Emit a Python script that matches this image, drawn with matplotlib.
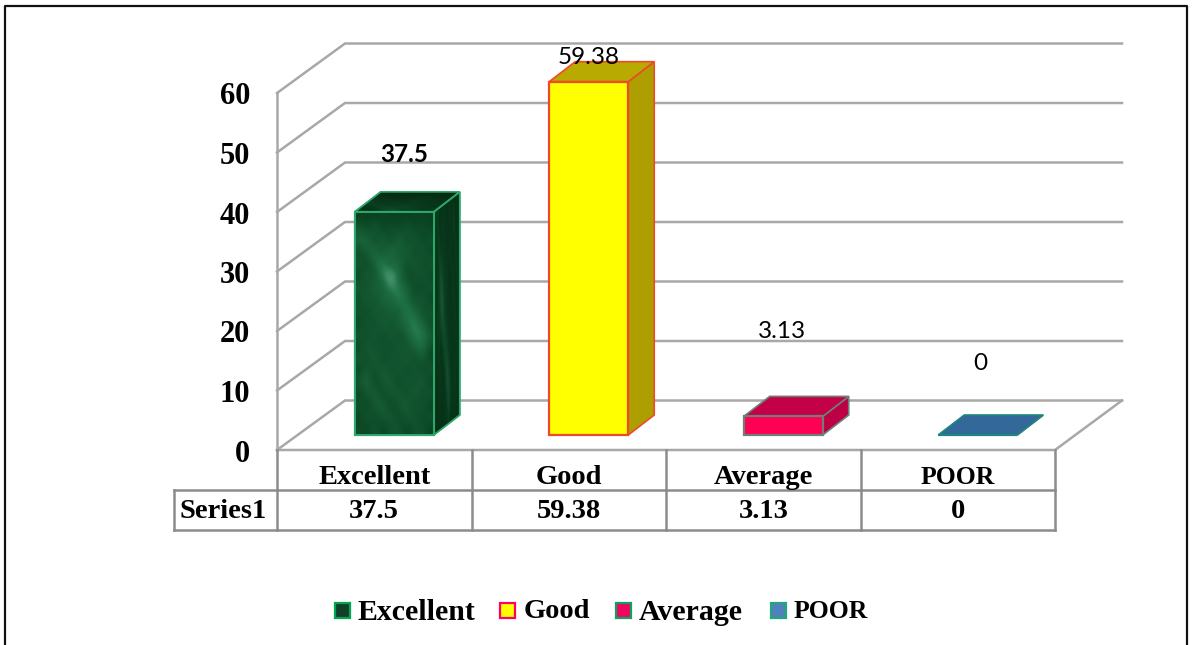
import numpy as np
import matplotlib
matplotlib.use("Agg")
import matplotlib.pyplot as plt
from matplotlib.patches import Polygon, Rectangle
from matplotlib.colors import LinearSegmentedColormap
from matplotlib.transforms import Affine2D

categories = ["Excellent", "Good", "Average", "POOR"]
values = [37.5, 59.38, 3.13, 0]
value_labels = ["37.5", "59.38", "3.13", "0"]
y_ticks = [0, 10, 20, 30, 40, 50, 60]
series_name = "Series1"

face_colors = ["#1c5a38", "#ffff00", "#ff0055", "#33689a"]
top_colors = ["#0c3f23", "#b8aa00", "#c40049", "#33689a"]
side_colors = ["#0c3a20", "#ad9f00", "#bd0045", "#33689a"]
edge_colors = ["#2fa86c", "#ee4a2a", "#6f7f75", "#1f8580"]
legend_faces = ["#123f27", "#ffff00", "#f0055f", "#4f81bd"]
legend_edges = ["#00a651", "#ff0066", "#10a060", "#20a878"]

# brightness pattern for the marbled first bar
marble = np.array([
    [.05, .08, .06, .10, .06, .08, .05, .09, .06, .07],
    [.32, .12, .34, .08, .24, .10, .30, .10, .20, .10],
    [.40, .46, .12, .40, .10, .44, .14, .32, .10, .24],
    [.14, .30, .50, .18, .54, .22, .40, .12, .32, .10],
    [.30, .10, .36, .66, .28, .48, .14, .36, .12, .28],
    [.10, .36, .18, .56, .92, .42, .20, .14, .32, .10],
    [.32, .14, .44, .26, .66, .56, .34, .20, .12, .26],
    [.12, .38, .16, .48, .30, .62, .46, .16, .34, .08],
    [.28, .10, .36, .18, .42, .24, .58, .42, .18, .28],
    [.08, .32, .14, .40, .16, .38, .44, .64, .38, .14],
    [.30, .12, .34, .10, .36, .14, .32, .56, .60, .30],
    [.10, .36, .14, .30, .12, .32, .18, .38, .50, .16],
    [.32, .12, .40, .10, .32, .16, .36, .14, .32, .10],
    [.10, .30, .16, .38, .14, .34, .12, .32, .12, .28],
    [.28, .42, .12, .28, .36, .10, .32, .16, .36, .08],
    [.08, .26, .36, .12, .26, .32, .14, .36, .14, .26],
    [.26, .10, .30, .38, .10, .24, .38, .12, .30, .08],
    [.06, .28, .12, .26, .32, .12, .24, .30, .10, .24],
    [.20, .08, .28, .08, .20, .28, .08, .20, .26, .06],
])

W, H = 1192, 645
plt.rcParams["font.family"] = ["Liberation Serif", "DejaVu Serif"]
fig = plt.figure(figsize=(W / 100, H / 100), dpi=100, facecolor="white")
ax = fig.add_axes([0, 0, 1, 1])

CAT = 194.5     # px per category
UNIT = 5.95     # px per value unit
X0, Y0 = 277, 450
XLIM = (-X0 / CAT, (W - X0) / CAT)
YLIM = ((Y0 - H) / UNIT, Y0 / UNIT)
ax.axis("off")
px = Affine2D().scale(1, -1).translate(0, H)

DX, DY = 68 / CAT, 49.5 / UNIT          # wall depth
BX, BY = 20 / CAT, 15 / UNIT            # bar front offset
SX, SY = 26 / CAT, 20 / UNIT            # bar depth
BW = 79 / CAT
XR = (1122 - X0) / CAT
GRID = "#a8a8a8"
TBL = "#8c8c8c"

# walls and gridlines
for t in y_ticks:
    ax.plot([0, DX, XR], [t, t + DY, t + DY], color=GRID, lw=1.8, zorder=1,
            solid_joinstyle="miter")
    ax.text(-27 / CAT, t - 4 / UNIT, str(t), ha="right", va="center", fontsize=22,
            fontweight="bold", color="black")
ax.plot([0, 0], [0, 60], color=GRID, lw=1.8, zorder=1)
ax.plot([0, 4, XR], [0, 0, DY], color=GRID, lw=1.8, zorder=1)

marble_cm = LinearSegmentedColormap.from_list("m", ["#053a1a", "#1f7045", "#7cc4a2"])
marble_dark = LinearSegmentedColormap.from_list("d", ["#03240f", "#0d4a28", "#2a6a48"])

# bars
for i, v in enumerate(values):
    c = i + 0.5
    l, r = c + BX - BW / 2, c + BX + BW / 2
    b, t = BY, BY + v
    ec = edge_colors[i]
    side = Polygon([(r, b), (r + SX, b + SY), (r + SX, t + SY), (r, t)],
                   fc=side_colors[i], ec=ec, lw=1.2, zorder=3)
    top = Polygon([(l, t), (r, t), (r + SX, t + SY), (l + SX, t + SY)],
                  fc=top_colors[i], ec=ec, lw=1.2, zorder=3)
    front = Rectangle((l, b), BW, v, fc=face_colors[i], ec=ec, lw=1.6, zorder=4)
    ax.add_patch(side)
    ax.add_patch(top)
    ax.add_patch(front)
    if i == 0:
        im = ax.imshow(marble, extent=(l, r, b, t), aspect="auto", cmap=marble_cm, vmin=0, vmax=1,
                       interpolation="bicubic", zorder=4.5)
        im.set_clip_path(front)
        im2 = ax.imshow(marble.T, extent=(r, r + SX, b, t + SY), aspect="auto", cmap=marble_dark,
                        vmin=0, vmax=1, interpolation="bicubic", zorder=3.2)
        im2.set_clip_path(side)
        im3 = ax.imshow(marble[:5], extent=(l, r + SX, t, t + SY), aspect="auto", cmap=marble_dark,
                        vmin=0, vmax=1, interpolation="bicubic", zorder=3.2)
        im3.set_clip_path(top)
        ax.add_patch(Rectangle((l, b), BW, v, fc="none", ec=ec, lw=1.4, zorder=5))
        ax.add_patch(Polygon(side.get_xy(), fc="none", ec=ec, lw=1.2, zorder=3.5))
        ax.add_patch(Polygon(top.get_xy(), fc="none", ec=ec, lw=1.2, zorder=3.5))

ax.set_xlim(*XLIM)
ax.set_ylim(*YLIM)

# data labels
label_pos = [(404, 155), (589, 57), (782, 332), (980, 364)]
for i, (lab, (x, y)) in enumerate(zip(value_labels, label_pos)):
    ax.text(x, y, lab, transform=px, ha="center", va="center", fontsize=17.5,
            family="Lato", fontweight="bold" if i == 0 else "normal", color="black", zorder=6)

# data table
xs = [X0 + CAT * k for k in range(5)]
def seg(x1, y1, x2, y2, lw=1.8, color=TBL):
    ax.plot([x1, x2], [y1, y2], transform=px, color=color, lw=lw, zorder=2,
            solid_capstyle="projecting")
for x in xs:
    seg(x, 450, x, 530)
seg(xs[0], 490, xs[-1], 490)
seg(174, 490, xs[0], 490)
seg(174, 530, xs[-1], 530)
seg(174, 490, 174, 530)
table_sizes = [20.5, 20.5, 20.5, 18.5]
for i, cat in enumerate(categories):
    cx = xs[i] + CAT / 2
    ax.text(cx, 477, cat, transform=px, ha="center", va="center", fontsize=table_sizes[i], fontweight="bold")
    ax.text(cx, 511, value_labels[i], transform=px, ha="center", va="center", fontsize=20.5, fontweight="bold")
ax.text(223.5, 511, series_name, transform=px, ha="center", va="center", fontsize=20.5, fontweight="bold")

# legend
leg_mark = [335, 500, 616, 771]
leg_text = [357, 524, 639, 794]
leg_sizes = [21.5, 20.5, 21.5, 18.5]
for i, cat in enumerate(categories):
    ax.add_patch(Rectangle((leg_mark[i], 603), 15, 15, transform=px, fc=legend_faces[i],
                           ec=legend_edges[i], lw=1.6, zorder=5))
    ax.text(leg_text[i], 612, cat, transform=px, ha="left", va="center", fontsize=leg_sizes[i], fontweight="bold")

# outer frame
ax.plot([5, 5, 1187, 1187], [H, 6, 6, H], transform=px, color="#111111", lw=1.6, zorder=7,
        clip_on=False)

fig.savefig("out.png", dpi=100, facecolor="white")
